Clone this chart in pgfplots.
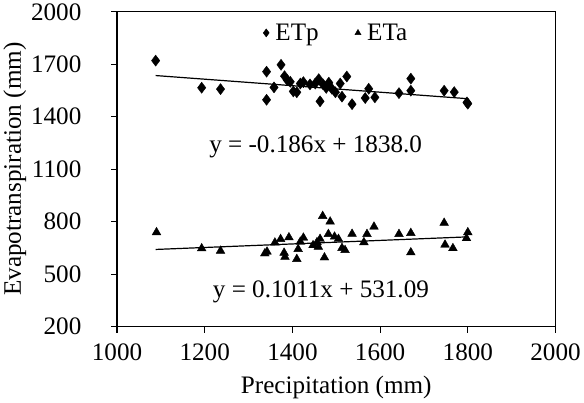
\documentclass[border=0pt]{standalone}
\usepackage{fontspec}
\setmainfont{Liberation Serif}
\usepackage{pgfplots}
\pgfplotsset{compat=1.18}

\begin{document}
\begin{tikzpicture}
\begin{axis}[
    scale only axis,
    width=436pt, height=313pt,
    xmin=1000, xmax=2000,
    ymin=200, ymax=2000,
    xtick={1000,1200,...,2000},
    ytick={200,500,...,2000},
    tick align=outside,
    xtick pos=bottom, ytick pos=left,
    major tick length=6pt,
    axis line style={line width=1.2pt},
    tick style={line width=1.2pt, black},
    /pgf/number format/assume math mode=true,
    /pgf/number format/set thousands separator={},
    ticklabel style={font=\fontsize{25}{30}\selectfont},
    xticklabel style={yshift=-8pt},
    yticklabel style={xshift=-26pt},
    xlabel={Precipitation (mm)},
    ylabel={Evapotranspiration (mm)},
    label style={font=\fontsize{25}{30}\selectfont},
    xlabel style={yshift=-8pt},
    ylabel style={yshift=-2pt},
    legend style={at={(0.5,0.975)}, anchor=north, draw=none, fill=none,
        legend columns=2, font=\fontsize{25}{30}\selectfont,
        /tikz/every even column/.append style={column sep=34pt}},
    legend cell align=left,
]
\addplot[only marks, mark=diamond*, mark size=5.5pt, black,
    legend image post style={mark size=4pt}] coordinates {
(1088,1721) (1193,1566) (1236,1558) (1341,1658) (1341,1497) (1358,1568)
(1374,1697) (1382,1632) (1388,1610) (1395,1600) (1402,1545) (1410,1540)
(1418,1590) (1425,1598) (1440,1585) (1452,1590) (1460,1615) (1463,1488)
(1470,1585) (1477,1565) (1483,1595) (1490,1560) (1498,1540) (1509,1590)
(1513,1515) (1524,1630) (1536,1472) (1566,1507) (1574,1560) (1588,1511)
(1643,1535) (1670,1618) (1670,1549) (1746,1549) (1769,1541) (1798,1482)
(1800,1475)
};
\addlegendentry{\,ETp}
\addplot[only marks, mark=triangle*, mark size=5pt, black,
    legend image post style={mark size=3.5pt}] coordinates {
(1090,739) (1193,647) (1236,633) (1337,618) (1342,628) (1360,680)
(1373,700) (1381,622) (1383,598) (1392,710) (1410,586) (1413,643)
(1418,685) (1425,708) (1447,665) (1456,682) (1459,656) (1463,701)
(1469,832) (1473,595) (1482,729) (1486,800) (1496,714) (1505,701)
(1513,649) (1520,637) (1536,730) (1563,682) (1570,729) (1586,771)
(1643,729) (1670,735) (1670,624) (1746,793) (1748,668) (1766,648)
(1800,739) (1797,705)
};
\addlegendentry{\,ETa}
\addplot[black, line width=1.2pt, forget plot] coordinates {(1088,1635.6) (1800,1503.2)};
\addplot[black, line width=1.2pt, forget plot] coordinates {(1088,641.1) (1800,713.1)};
\node[font=\fontsize{25}{30}\selectfont] at (axis cs:1453,1226) {y = -0.186x + 1838.0};
\node[font=\fontsize{25}{30}\selectfont] at (axis cs:1465,398) {y = 0.1011x + 531.09};
\end{axis}
\end{tikzpicture}
\end{document}
